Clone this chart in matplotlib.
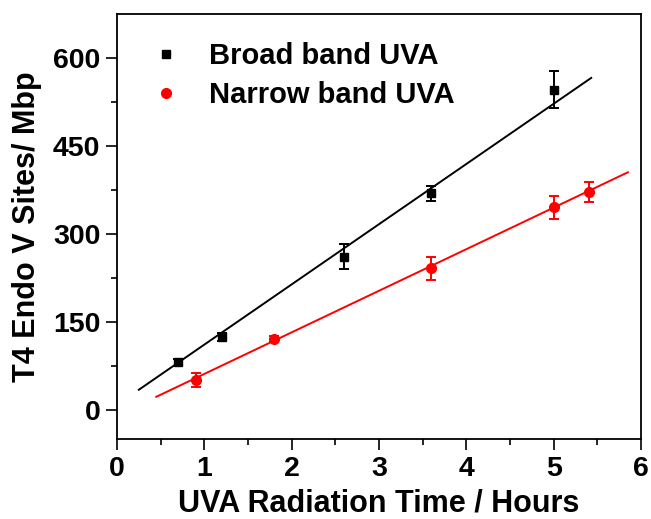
import matplotlib
matplotlib.use("Agg")
import matplotlib.pyplot as plt
import numpy as np

plt.rcParams['font.family'] = ['Liberation Sans', 'DejaVu Sans']
plt.rcParams['font.weight'] = 'bold'

# Broad band UVA data
broad_x = [0.7, 1.2, 2.6, 3.6, 5.0]
broad_y = [81, 124, 261, 369, 546]
broad_err = [6, 7, 21, 13, 31]
# Narrow band UVA data
narrow_x = [0.9, 1.8, 3.6, 5.0, 5.4]
narrow_y = [51, 121, 241, 345, 372]
narrow_err = [12, 5, 20, 19, 17]
# Fit lines (endpoints as drawn)
broad_fit_x = [0.25, 5.43]
broad_fit_y = [34, 566]
narrow_fit_x = [0.45, 5.85]
narrow_fit_y = [22, 405]

x_ticks = [0, 1, 2, 3, 4, 5, 6]
y_ticks = [0, 150, 300, 450, 600]

fig = plt.figure(figsize=(6.51, 5.19), dpi=100)
ax = fig.add_axes([117/651, 1-439/519, (641-117)/651, (439-14)/519])

ax.plot(broad_fit_x, broad_fit_y, color='black', lw=1.4, zorder=2)
ax.plot(narrow_fit_x, narrow_fit_y, color='red', lw=1.4, zorder=2)
ax.errorbar(broad_x, broad_y, yerr=broad_err, fmt='s', color='black', ms=6,
            capsize=3.5, elinewidth=1.4, capthick=1.4, label='Broad band UVA', zorder=3)
ax.errorbar(narrow_x, narrow_y, yerr=narrow_err, fmt='o', color='red', ms=7,
            capsize=3.5, elinewidth=1.4, capthick=1.4, label='Narrow band UVA', zorder=3)

ax.set_xlim(0, 6)
ax.set_ylim(-50, 675)
ax.set_xticks(x_ticks)
ax.set_yticks(y_ticks)
ax.set_xticks(np.arange(0.5, 6, 1.0), minor=True)
ax.set_yticks([75, 225, 375, 525], minor=True)
ax.tick_params(axis='both', which='major', direction='out', length=8, width=1.2,
               labelsize=20.5, pad=4)
ax.tick_params(axis='both', which='minor', direction='out', length=4.5, width=1.2)
for s in ax.spines.values():
    s.set_linewidth(1.3)

ax.set_xlabel('UVA Radiation Time / Hours', fontsize=22, fontweight='bold', labelpad=5)
ax.set_ylabel('T4 Endo V Sites/ Mbp', fontsize=22, fontweight='bold', labelpad=8)

h, l = ax.get_legend_handles_labels()
h = [hh[0] for hh in h]
leg = ax.legend(h, l, loc='upper left', bbox_to_anchor=(151/651, 1-42/519),
                bbox_transform=fig.transFigure, frameon=False, fontsize=21,
                handlelength=1.0, handletextpad=1.0, borderpad=0, borderaxespad=0,
                labelspacing=0.38, numpoints=1)
for t in leg.get_texts():
    t.set_fontweight('bold')

fig.savefig('out.png', dpi=100)
